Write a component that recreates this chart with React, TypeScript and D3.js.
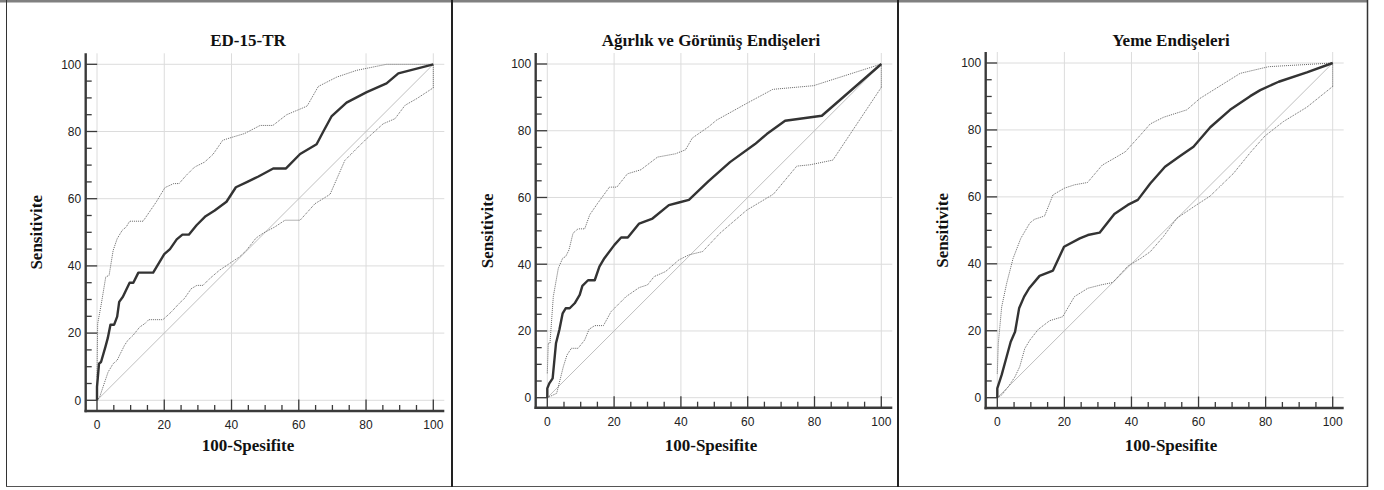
import React from 'react';
import * as d3 from 'd3';

type Pt = [number, number];

const titles = ['ED-15-TR', 'Ağırlık ve Görünüş Endişeleri', 'Yeme Endişeleri'];
const xLabel = '100-Spesifite';
const yLabel = 'Sensitivite';
const majorTicks = [0, 20, 40, 60, 80, 100];
const minorTicks = d3.range(0, 101, 5);

// ED-15-TR
const ed15Roc: Pt[] = [[0,0],[0,4],[0.6,10.9],[1.2,11.4],[2.5,15.9],[3.2,18.5],[4,22.5],[5.1,22.5],[6,24.9],[6.6,29.3],[7.7,30.8],[9.7,35],[10.8,35],[12.3,38],[16.7,38],[20,43.5],[21.7,45],[23.7,47.9],[25.4,49.3],[27.3,49.3],[29.6,52.1],[32.3,54.8],[35,56.5],[38.5,59.1],[41.3,63.4],[44.7,65],[48,66.6],[52.4,69],[56.2,69],[60.4,73.3],[65.3,76.2],[67.3,80],[69.8,84.6],[74.2,88.6],[80.2,91.7],[86.1,94.3],[89.6,97.3],[100,100]];
const ed15Upper: Pt[] = [[0,7],[0.2,22.8],[1.3,28.8],[2.6,36.7],[3.6,37.2],[4.8,44.6],[6,48.1],[7.5,50.6],[8.7,51.6],[9.7,53.3],[13.7,53.3],[17.6,59],[20.2,63.3],[22.8,64.5],[24.4,64.5],[26.3,66.7],[29,69.4],[32,70.9],[34.5,73.2],[37.4,77.4],[39.9,78.2],[43.9,79.4],[48.5,81.8],[52.3,81.8],[56.4,85],[61.4,87.1],[62.5,87.6],[65.8,93.4],[71.3,96.2],[77.2,98.2],[86.1,100],[100,100]];
const ed15Lower: Pt[] = [[0,0],[0.8,1],[1.8,4],[3.3,8.4],[4.8,10.9],[6,11.9],[6.7,13.4],[8.2,16.4],[9.2,17.9],[10.7,19.3],[12.7,21.8],[14.2,22.8],[15.4,24],[19.6,24],[22.1,26.3],[24.6,29],[26,30.3],[28,33.2],[29.7,34.2],[31.5,34.2],[33.5,36.2],[36.4,38.7],[39.4,40.7],[42.4,42.7],[44.4,44.6],[47.3,48.3],[49.5,49.8],[52.9,51.6],[55.9,53.6],[60.4,53.6],[64.8,58.5],[69.3,61.3],[73.7,71.4],[79.7,77.4],[85.1,82.3],[88.6,83.8],[91.6,87.8],[95.1,89.8],[100,93]];

// Ağırlık ve Görünüş Endişeleri
const agirlikRoc: Pt[] = [[0,0],[0,2.8],[0.6,4.3],[1.6,5.8],[2.6,16.3],[3.6,20.3],[4.6,25.3],[5.5,26.8],[6.7,26.8],[8.2,28.3],[9.7,30.8],[10.5,33.5],[12.2,35.2],[14.2,35.2],[15.6,39.3],[17.1,41.8],[20.1,45.8],[22.1,48],[24.1,48],[27.5,52.2],[31.5,53.7],[36.4,57.7],[39.4,58.5],[42.4,59.3],[48.2,64.8],[54.7,70.6],[62.2,76],[65.7,79],[71.2,83],[82.2,84.5],[100,100]];
const agirlikUpper: Pt[] = [[0,7.3],[0.3,16.3],[0.8,16.3],[1.8,30.3],[3.3,38.8],[4.6,41.8],[5.5,42.3],[6.5,44.3],[7.7,49.3],[9.2,50.6],[11.2,50.6],[12.7,54.8],[15.1,58.3],[18.6,63.1],[20.8,63.1],[24,67.1],[28,68.3],[33,72.1],[38.4,73.1],[41.4,74.3],[43.4,77.8],[48.3,81.2],[50.7,83.2],[59.7,88.2],[67.5,92.4],[79.7,93.5],[100,100]];
const agirlikLower: Pt[] = [[0,0],[2.8,1.3],[3.8,5.3],[4.8,9.3],[5.9,12.8],[7.2,14.8],[9.2,14.8],[11.2,17.3],[12.5,20.5],[14.2,21.6],[16.8,21.6],[19.1,25.8],[21.6,28.3],[23.6,30.3],[27.5,33],[30,33.8],[32,36.3],[35.4,37.8],[39.4,41.3],[42.4,42.8],[46.5,43.8],[51.7,49.3],[59.7,56.2],[67.7,61],[74.7,69.4],[78.7,69.8],[85.5,71.2],[100,93]];

// Yeme Endişeleri
const yemeRoc: Pt[] = [[0,0],[0,2.8],[1.3,6.8],[2.8,12.3],[4,16.7],[5.3,19.7],[6.5,26.7],[8,30.2],[9.5,32.7],[12.6,36.4],[16.6,38],[19.9,45.1],[24.6,47.6],[27,48.6],[30.5,49.3],[34.9,54.9],[38.9,57.6],[41.9,59.1],[45.6,64],[50,69],[54.5,72.2],[58.5,75],[63.5,80.8],[69.4,86],[75.4,90.1],[78.4,91.9],[83.9,94.4],[92.3,97.2],[100,100]];
const yemeUpper: Pt[] = [[0,7.2],[0.3,16.2],[1.3,27.1],[2.8,34.2],[4.7,41.6],[7,47.6],[9.7,52.2],[11.1,53.3],[14.1,54.3],[16.6,60.6],[20,62.6],[23,63.6],[26.9,64.3],[31.3,69.5],[34.8,71.5],[38.2,73.5],[42.7,78.5],[45.6,81.8],[49.6,83.8],[56.5,86],[60.4,89.4],[72.4,96.9],[80.9,98.9],[100,100]];
const yemeLower: Pt[] = [[0,0],[1.3,0.8],[3.3,3.3],[5.3,6.3],[6.7,9.3],[8.2,14.7],[9.7,17.2],[12.2,20.4],[15.6,23],[19.5,24.2],[23,30.2],[27,32.7],[30.9,33.7],[34.4,34.4],[38.9,39.3],[42.7,41.6],[45.6,43.6],[49.5,48.1],[53.5,53.6],[59.4,57.6],[63.4,60.2],[70.4,67],[75.4,73.2],[79.8,78.2],[85.3,82.5],[92.3,86.8],[100,93]];

const rocs = [ed15Roc, agirlikRoc, yemeRoc];
const uppers = [ed15Upper, agirlikUpper, yemeUpper];
const lowers = [ed15Lower, agirlikLower, yemeLower];

// panel geometry (pixels)
const panels = [
  { x0: 97, x1: 433.3, y0: 400.3, y1: 64.3, axisX: 85.7, axisY: 411, cx: 248, yLabX: 36 },
  { x0: 547.3, x1: 881.3, y0: 397.7, y1: 64, axisX: 535.7, axisY: 407.7, cx: 711, yLabX: 487 },
  { x0: 997.3, x1: 1332.7, y0: 397.7, y1: 63, axisX: 985.7, axisY: 408, cx: 1171, yLabX: 942 },
];

const serif = '"Liberation Serif", "DejaVu Serif", serif';
const sans = '"Liberation Sans", Arial, sans-serif';

function Panel({ i }: { i: number }) {
  const p = panels[i];
  const x = d3.scaleLinear().domain([0, 100]).range([p.x0, p.x1]);
  const y = d3.scaleLinear().domain([0, 100]).range([p.y0, p.y1]);
  const line = d3.line<Pt>().x(d => x(d[0])).y(d => y(d[1]));
  const top = y(100) - 11;
  const right = x(100) + 11;
  const lower = lowers[i];
  const upper = uppers[i];
  const closing: Pt[] = [lower[lower.length - 1], upper[upper.length - 1]];

  return (
    <g>
      {/* grid */}
      {majorTicks.map(t => (
        <line key={'gh' + t} x1={p.axisX} x2={right} y1={y(t)} y2={y(t)} stroke="#dcdcdc" strokeWidth={1} />
      ))}
      {majorTicks.map(t => (
        <line key={'gv' + t} x1={x(t)} x2={x(t)} y1={top} y2={p.axisY} stroke="#dcdcdc" strokeWidth={1} />
      ))}
      {/* diagonal */}
      <path d={line([[0, 0], [100, 100]]) || ''} fill="none" stroke="#b8b8b8" strokeWidth={0.9} />
      {/* confidence bounds */}
      <path d={line(upper) || ''} fill="none" stroke="#666" strokeWidth={1} strokeDasharray="1 1" />
      <path d={line(lower) || ''} fill="none" stroke="#666" strokeWidth={1} strokeDasharray="1 1" />
      <path d={line(closing) || ''} fill="none" stroke="#666" strokeWidth={1} strokeDasharray="1 1" />
      {/* roc */}
      <path d={line(rocs[i]) || ''} fill="none" stroke="#333" strokeWidth={2.4} strokeLinejoin="round" />
      {/* axes */}
      <line x1={p.axisX} x2={p.axisX} y1={top} y2={p.axisY + 1.2} stroke="#3a3a3a" strokeWidth={2.4} />
      <line x1={p.axisX - 1.2} x2={right} y1={p.axisY} y2={p.axisY} stroke="#3a3a3a" strokeWidth={2.4} />
      {minorTicks.map(t => {
        const len = t % 20 === 0 ? 11.5 : 6;
        return (
          <g key={'t' + t}>
            <line x1={p.axisX} x2={p.axisX + len} y1={y(t)} y2={y(t)} stroke="#3a3a3a" strokeWidth={1.3} />
            <line x1={x(t)} x2={x(t)} y1={p.axisY} y2={p.axisY - len} stroke="#3a3a3a" strokeWidth={1.3} />
          </g>
        );
      })}
      {majorTicks.map(t => (
        <text key={'yl' + t} x={p.axisX - 4.5} y={y(t)} dy="0.36em" textAnchor="end" fontFamily={sans} fontSize={12} fill="#222">{t}</text>
      ))}
      {majorTicks.map(t => (
        <text key={'xl' + t} x={x(t)} y={p.axisY + 18} textAnchor="middle" fontFamily={sans} fontSize={12} fill="#222">{t}</text>
      ))}
      {/* titles */}
      <text x={p.cx} y={46} textAnchor="middle" fontFamily={serif} fontWeight="bold" fontSize={17} fill="#111">{titles[i]}</text>
      <text x={p.cx} y={451} textAnchor="middle" fontFamily={serif} fontWeight="bold" fontSize={17} fill="#111">{xLabel}</text>
      <text transform={`translate(${p.yLabX},${(p.y0 + p.y1) / 2}) rotate(-90)`} dy="0.35em" textAnchor="middle" fontFamily={serif} fontWeight="bold" fontSize={17} fill="#111">{yLabel}</text>
    </g>
  );
}

export default function App() {
  return (
    <svg width={1384} height={490} style={{ position: 'absolute', left: 0, top: 0, background: '#fff' }}>
      <rect x={0} y={0} width={1384} height={490} fill="#fff" />
      {/* frame */}
      <rect x={0} y={0} width={1368} height={2.5} fill="#808080" />
      <line x1={6.5} x2={6.5} y1={0} y2={487} stroke="#333" strokeWidth={1} />
      <line x1={6} x2={1368} y1={486.5} y2={486.5} stroke="#555" strokeWidth={1} />
      <line x1={452} x2={452} y1={0} y2={487} stroke="#222" strokeWidth={2} />
      <line x1={898} x2={898} y1={0} y2={487} stroke="#222" strokeWidth={2} />
      <line x1={1367.5} x2={1367.5} y1={0} y2={487} stroke="#333" strokeWidth={1.5} />
      {[0, 1, 2].map(i => <Panel key={i} i={i} />)}
    </svg>
  );
}
